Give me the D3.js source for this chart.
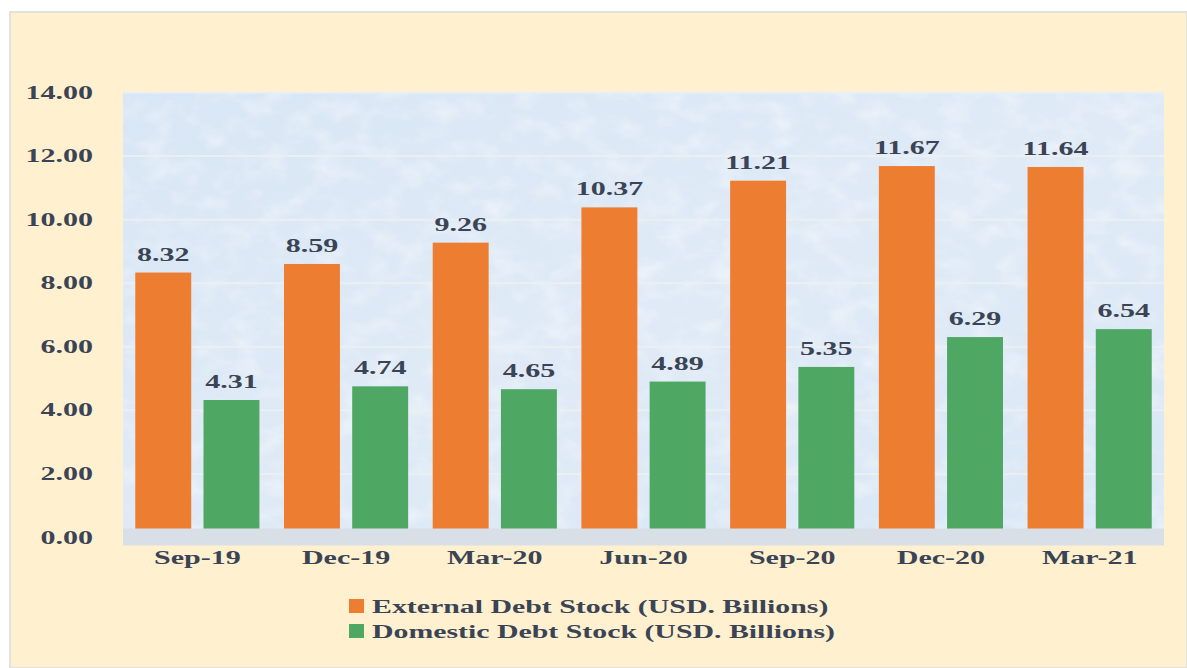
<!DOCTYPE html>
<html>
<head>
<meta charset="utf-8">
<script src="https://cdn.jsdelivr.net/npm/d3@7"></script>
<style>
  html, body { margin: 0; padding: 0; background: #ffffff; }
  svg { display: block; }
</style>
</head>
<body>
<div id="chart"></div>
<script>
// Data
const periods = ["Sep-19", "Dec-19", "Mar-20", "Jun-20", "Sep-20", "Dec-20", "Mar-21"];
const externalDebt = [8.32, 8.59, 9.26, 10.37, 11.21, 11.67, 11.64];
const domesticDebt = [4.31, 4.74, 4.65, 4.89, 5.35, 6.29, 6.54];
const seriesNames = ["External Debt Stock (USD. Billions)", "Domestic Debt Stock (USD. Billions)"];
const yTicks = [0, 2, 4, 6, 8, 10, 12, 14];

const width = 1187, height = 668;
const margin = {top: 92, left: 123, right: 23, bottom: 131};
const colors = ["#ed7d31", "#4ea762"];
const textColor = "#3a4455";
const font = "'Liberation Serif', 'Times New Roman', serif";
const sx = 1.58; // the original text looks stretched sideways

const rows = periods.map((p, i) => ({period: p, values: [externalDebt[i], domesticDebt[i]]}));

const svg = d3.select("#chart").append("svg")
    .attr("width", width)
    .attr("height", height);

// Outer frame
svg.append("rect")
    .attr("x", 10).attr("y", 12)
    .attr("width", width - 10).attr("height", height - 12)
    .attr("fill", "#fff0cf")
    .attr("stroke", "#e2e2da").attr("stroke-width", 2);

// Scales
const x0 = d3.scaleBand()
    .domain(periods)
    .range([margin.left, width - margin.right]);

const x1 = d3.scaleBand()
    .domain([0, 1])
    .range([0, x0.bandwidth()])
    .paddingInner(0.18)
    .paddingOuter(0.18);

const y = d3.scaleLinear()
    .domain([0, 14])
    .range([height - margin.bottom, margin.top]);

// Plot area background with a soft mottled texture
const defs = svg.append("defs");
const grad = defs.append("linearGradient").attr("id", "plotbg")
    .attr("x1", 0).attr("y1", 0).attr("x2", 1).attr("y2", 1);
grad.append("stop").attr("offset", "0%").attr("stop-color", "#d8e6f5");
grad.append("stop").attr("offset", "50%").attr("stop-color", "#dfeaf6");
grad.append("stop").attr("offset", "100%").attr("stop-color", "#d9e7f5");

const noise = defs.append("filter").attr("id", "mottle")
    .attr("x", 0).attr("y", 0).attr("width", "100%").attr("height", "100%");
noise.append("feTurbulence")
    .attr("type", "fractalNoise")
    .attr("baseFrequency", "0.035 0.05")
    .attr("numOctaves", 3)
    .attr("seed", 7);
noise.append("feColorMatrix")
    .attr("type", "matrix")
    .attr("values", "0 0 0 0 1  0 0 0 0 1  0 0 0 0 1  1.6 0 0 0 -0.7");

const plotW = width - margin.left - margin.right;
svg.append("rect")
    .attr("x", margin.left).attr("y", margin.top)
    .attr("width", plotW)
    .attr("height", y(0) - margin.top)
    .attr("fill", "url(#plotbg)");
svg.append("rect")
    .attr("x", margin.left).attr("y", margin.top)
    .attr("width", plotW)
    .attr("height", y(0) - margin.top)
    .attr("filter", "url(#mottle)")
    .attr("opacity", 0.55);

// Gridlines and y labels
const yAxis = d3.axisLeft(y)
    .tickValues(yTicks)
    .tickSize(-plotW)
    .tickFormat(d => d.toFixed(2));

const yAxisGroup = svg.append("g")
    .attr("transform", `translate(${margin.left},0)`)
    .call(yAxis);

yAxisGroup.select(".domain").remove();
yAxisGroup.selectAll(".tick line")
    .attr("stroke", "#ebeff2")
    .attr("stroke-width", 2);
yAxisGroup.selectAll(".tick text")
    .attr("x", -30 / sx)
    .attr("transform", `scale(${sx},1)`)
    .attr("fill", textColor)
    .style("font-family", font)
    .style("font-size", "19px")
    .style("font-weight", "bold");

// Bars
const groups = svg.append("g").selectAll("g")
    .data(rows)
    .enter().append("g")
    .attr("transform", d => `translate(${x0(d.period)},0)`);

groups.selectAll("rect")
    .data(d => d.values.map((v, i) => ({i: i, v: v})))
    .enter().append("rect")
    .attr("x", d => x1(d.i))
    .attr("y", d => y(d.v))
    .attr("width", x1.bandwidth())
    .attr("height", d => y(0) - y(d.v))
    .attr("fill", d => colors[d.i]);

// Value labels
groups.selectAll("text")
    .data(d => d.values.map((v, i) => ({i: i, v: v})))
    .enter().append("text")
    .attr("transform", d => `translate(${x1(d.i) + x1.bandwidth() / 2},${y(d.v) - 12}) scale(${sx},1)`)
    .attr("text-anchor", "middle")
    .attr("fill", textColor)
    .style("font-family", font)
    .style("font-size", "19px")
    .style("font-weight", "bold")
    .text(d => d.v.toFixed(2));

// Floor band
svg.append("rect")
    .attr("x", margin.left).attr("y", y(0) - 8.5)
    .attr("width", plotW)
    .attr("height", 17)
    .attr("fill", "#d9dfe6");

// X axis labels
const xAxis = d3.axisBottom(x0).tickSize(0);
const xAxisGroup = svg.append("g")
    .attr("transform", `translate(0,${y(0) + 8.5})`)
    .call(xAxis);
xAxisGroup.select(".domain").remove();
xAxisGroup.selectAll(".tick text")
    .attr("y", 0)
    .attr("dy", "1.0em")
    .attr("transform", `scale(${sx},1)`)
    .attr("fill", textColor)
    .style("font-family", font)
    .style("font-size", "19px")
    .style("font-weight", "bold");

// Legend
const legend = svg.append("g").attr("transform", "translate(349,599)");
seriesNames.forEach((name, i) => {
    const row = legend.append("g").attr("transform", `translate(0,${i * 25})`);
    row.append("rect")
        .attr("width", 15).attr("height", 14)
        .attr("fill", colors[i]);
    row.append("text")
        .attr("transform", `translate(23,14) scale(${sx - 0.05},1)`)
        .attr("fill", textColor)
        .style("font-family", font)
        .style("font-size", "19.5px")
        .style("font-weight", "bold")
        .text(name);
});
</script>
</body>
</html>
